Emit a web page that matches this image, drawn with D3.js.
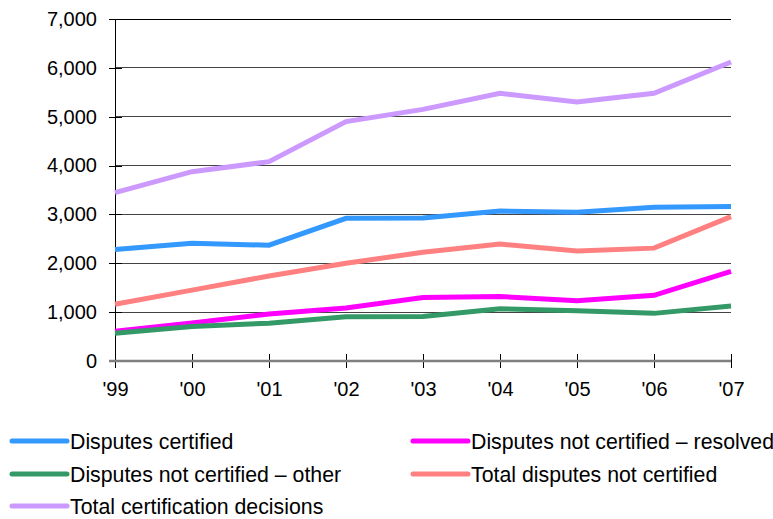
<!DOCTYPE html>
<html>
<head>
<meta charset="utf-8">
<script src="https://cdn.jsdelivr.net/npm/d3@7"></script>
<style>
  html, body { margin: 0; padding: 0; background: #fff; }
  svg { display: block; }
  text { font-family: Arial, "Liberation Sans", sans-serif; fill: #000; }
</style>
</head>
<body>
<svg id="chart" width="773" height="519"></svg>
<script>
// ---- data ----
const years = ["'99", "'00", "'01", "'02", "'03", "'04", "'05", "'06", "'07"];
const disputesCertified = [2280, 2410, 2370, 2920, 2925, 3070, 3045, 3145, 3160];
const notCertifiedResolved = [610, 780, 960, 1085, 1300, 1320, 1235, 1345, 1835];
const notCertifiedOther = [570, 705, 775, 905, 912, 1070, 1030, 975, 1125];
const totalNotCertified = [1160, 1450, 1740, 2000, 2225, 2395, 2250, 2310, 2955];
const totalDecisions = [3445, 3875, 4080, 4900, 5150, 5480, 5300, 5480, 6120];
const yTicks = [0, 1000, 2000, 3000, 4000, 5000, 6000, 7000];

const seriesNames = [
  "Disputes certified",
  "Disputes not certified \u2013 resolved",
  "Disputes not certified \u2013 other",
  "Total disputes not certified",
  "Total certification decisions"
];
const seriesColors = ["#3399ff", "#ff00ff", "#339966", "#ff8080", "#cc99ff"];
const seriesValues = [disputesCertified, notCertifiedResolved, notCertifiedOther, totalNotCertified, totalDecisions];

const series = seriesNames.map((n, i) => ({ name: n, color: seriesColors[i], values: seriesValues[i] }));

// ---- layout ----
const svg = d3.select("#chart");
const plotLeft = 115, plotRight = 731, plotTop = 19, plotBottom = 361;

const x = d3.scalePoint().domain(years).range([plotLeft, plotRight]);
const y = d3.scaleLinear().domain([0, 7000]).range([plotBottom, plotTop]);

// gridlines
svg.append("g").selectAll("line").data(yTicks.filter(d => d > 0)).join("line")
  .attr("x1", plotLeft).attr("x2", plotRight)
  .attr("y1", d => y(d)).attr("y2", d => y(d))
  .attr("stroke", d => d === 7000 ? "#000" : "#444").attr("stroke-width", 1)
  .attr("shape-rendering", "crispEdges");

// y axis
const yAxis = d3.axisLeft(y).tickValues(yTicks).tickFormat(d3.format(",")).tickSize(6).tickPadding(12);
const gy = svg.append("g").attr("transform", `translate(${plotLeft},0)`).call(yAxis);
gy.select(".domain").remove();
gy.selectAll(".tick line").attr("x2", 7).attr("x1", -6).attr("stroke", "#000").attr("shape-rendering", "crispEdges");
gy.selectAll(".tick text").attr("x", -18).style("font-size", "20px").style("font-family", "Arial, 'Liberation Sans', sans-serif").attr("fill", "#000");
svg.append("line").attr("x1", plotLeft).attr("x2", plotLeft).attr("y1", plotTop).attr("y2", plotBottom + 7)
  .attr("stroke", "#000").attr("stroke-width", 1).attr("shape-rendering", "crispEdges");

// x axis
const xAxis = d3.axisBottom(x).tickSize(7).tickPadding(14);
const gx = svg.append("g").attr("transform", `translate(0,${plotBottom})`).call(xAxis);
gx.select(".domain").remove();
gx.selectAll(".tick line").attr("y1", -7).attr("y2", 7).attr("stroke", "#000").attr("shape-rendering", "crispEdges");
gx.selectAll(".tick text").style("font-size", "20px").style("font-family", "Arial, 'Liberation Sans', sans-serif").attr("fill", "#000");
svg.append("line").attr("x1", plotLeft - 6).attr("x2", plotRight).attr("y1", plotBottom).attr("y2", plotBottom)
  .attr("stroke", "#808080").attr("stroke-width", 2.5);

// lines
const line = d3.line().x((d, i) => x(years[i])).y(d => y(d));
svg.append("g").selectAll("path").data(series).join("path")
  .attr("d", d => line(d.values))
  .attr("fill", "none")
  .attr("stroke", d => d.color)
  .attr("stroke-width", 5)
  .attr("stroke-linejoin", "miter");

// legend
const legendPos = [
  { x: 12, y: 441 }, { x: 413, y: 441 },
  { x: 12, y: 474 }, { x: 413, y: 474 },
  { x: 12, y: 506 }
];
const lg = svg.append("g").selectAll("g").data(series).join("g")
  .attr("transform", (d, i) => `translate(${legendPos[i].x},${legendPos[i].y})`);
lg.append("line").attr("x1", 0).attr("x2", 55).attr("y1", 0).attr("y2", 0)
  .attr("stroke", d => d.color).attr("stroke-width", 5).attr("stroke-linecap", "round");
lg.append("text").attr("x", 58).attr("y", 0).attr("dy", "0.36em")
  .style("font-size", "21.3px").text(d => d.name);
</script>
</body>
</html>
